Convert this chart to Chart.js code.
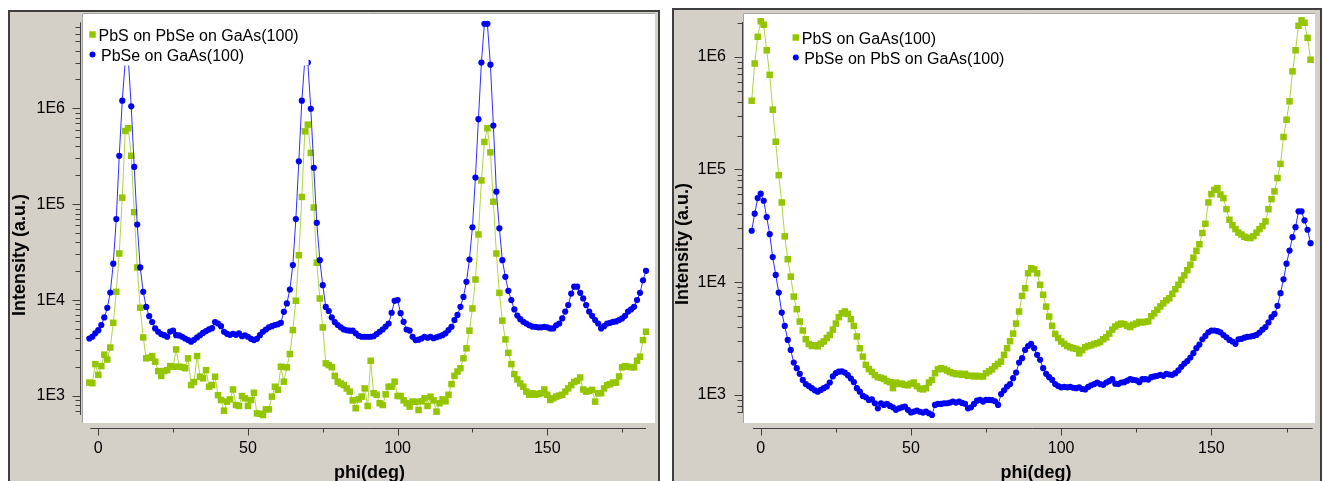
<!DOCTYPE html>
<html>
<head>
<meta charset="utf-8">
<script src="https://cdn.jsdelivr.net/npm/chart.js@4.4.0/dist/chart.umd.min.js"></script>
<style>
  html, body { margin: 0; padding: 0; background: #fff; overflow: hidden; }
  body { width: 1324px; height: 481px; position: relative; }
  .panel { position: absolute; box-sizing: border-box; background: #d4d0c8; border: 2px solid #3f3f3f; border-bottom: none; }
  #panelA { left: 8px; top: 10px; width: 652px; height: 471px; }
  #panelB { left: 672px; top: 8px; width: 650px; height: 473px; }
  canvas { position: absolute; }
  #chartA { left: 10px; top: 12px; }
  #chartB { left: 674px; top: 10px; }
</style>
</head>
<body>
<div class="panel" id="panelA"></div>
<div class="panel" id="panelB"></div>
<canvas id="chartA" width="648" height="469"></canvas>
<canvas id="chartB" width="646" height="471"></canvas>
<script>
document.addEventListener('DOMContentLoaded', function () {
    const FONT = "'Liberation Sans', Arial, sans-serif";

    // phi steps in degrees, shared by all four scans
    const phi = [
        -3, -2, -1, 0, 1, 2, 3, 4, 5, 6,
        7, 8, 9, 10, 11, 12, 13, 14, 15, 16,
        17, 18, 19, 20, 21, 22, 23, 24, 25, 26,
        27, 28, 29, 30, 31, 32, 33, 34, 35, 36,
        37, 38, 39, 40, 41, 42, 43, 44, 45, 46,
        47, 48, 49, 50, 51, 52, 53, 54, 55, 56,
        57, 58, 59, 60, 61, 62, 63, 64, 65, 66,
        67, 68, 69, 70, 71, 72, 73, 74, 75, 76,
        77, 78, 79, 80, 81, 82, 83, 84, 85, 86,
        87, 88, 89, 90, 91, 92, 93, 94, 95, 96,
        97, 98, 99, 100, 101, 102, 103, 104, 105, 106,
        107, 108, 109, 110, 111, 112, 113, 114, 115, 116,
        117, 118, 119, 120, 121, 122, 123, 124, 125, 126,
        127, 128, 129, 130, 131, 132, 133, 134, 135, 136,
        137, 138, 139, 140, 141, 142, 143, 144, 145, 146,
        147, 148, 149, 150, 151, 152, 153, 154, 155, 156,
        157, 158, 159, 160, 161, 162, 163, 164, 165, 166,
        167, 168, 169, 170, 171, 172, 173, 174, 175, 176,
        177, 178, 179, 180, 181, 182, 183
    ];

    // left panel: PbS on PbSe on GaAs(100)
    const pbsOnPbse = [
        1380, 1360, 2150, 1660, 2050, 2700, 2400, 3200, 5800, 12200,
        30600, 117000, 580000, 620000, 320000, 82600, 21900, 8320, 4080, 2470,
        2510, 2610, 2280, 1820, 1620, 1820, 1860, 2050, 2020, 3060,
        2020, 2000, 1950, 2470, 1300, 1400, 2610, 1590, 1530, 1860,
        1250, 1300, 1590, 1020, 908, 703, 873, 922, 1170, 805,
        787, 1000, 946, 787, 908, 1080, 659, 652, 634, 726,
        726, 985, 1250, 1160, 2020, 1410, 1990, 2740, 4870, 9840,
        29400, 119000, 575000, 676000, 343000, 92300, 24500, 10400, 5190, 2190,
        2100, 2000, 1620, 1410, 1350, 1300, 1200, 1110, 900, 745,
        922, 985, 1200, 787, 2330, 1070, 1030, 840, 805, 1040,
        1250, 1250, 1410, 1000, 1000, 900, 840, 775, 873, 870,
        714, 880, 946, 787, 985, 900, 687, 840, 922, 880,
        1030, 1330, 1620, 1800, 1950, 2470, 3140, 4800, 8180, 16400,
        48400, 177000, 446000, 620000, 347000, 106000, 30600, 11900, 6100, 3890,
        2820, 2150, 1690, 1490, 1350, 1250, 1110, 1030, 1070, 1030,
        1050, 1070, 1170, 1030, 908, 946, 985, 1010, 1030, 1110,
        1200, 1300, 1400, 1440, 1560, 1170, 1110, 1130, 1160, 873,
        1070, 1070, 1200, 1300, 1330, 1380, 1380, 1600, 1990, 2050,
        2020, 2000, 1990, 2330, 2570, 3830, 4680
    ];

    // left panel: PbSe on GaAs(100)
    const pbseOnGaas = [
        3980, 4150, 4500, 4860, 5500, 6600, 8300, 12000, 24000, 70000,
        320000, 1200000, 3100000, 3300000, 1050000, 245000, 61400, 21900, 12200, 8500,
        6800, 5900, 5070, 4680, 4420, 4310, 4150, 4700, 4800, 4310,
        4280, 4150, 3980, 3830, 3680, 3850, 4080, 4300, 4550, 4750,
        4950, 5100, 5900, 5700, 5350, 4680, 4450, 4350, 4450, 4350,
        4500, 4200, 4300, 4150, 3950, 3830, 3950, 4310, 4680, 4940,
        5200, 5350, 5500, 5600, 5800, 7550, 9230, 12900, 23200, 70000,
        280000, 1200000, 3200000, 3000000, 990000, 240000, 64000, 26100, 14300, 8500,
        7700, 6600, 5900, 5500, 5200, 4950, 4850, 4800, 4800, 4500,
        4250, 4150, 4150, 4150, 4150, 4200, 4420, 4680, 4940, 5300,
        5700, 7380, 9840, 10000, 7300, 5940, 4940, 4810, 4150, 3830,
        3870, 3980, 4150, 4050, 4150, 4000, 4100, 4200, 4310, 4500,
        4870, 5270, 6190, 7000, 8520, 10800, 15500, 26500, 57500, 190000,
        770000, 3000000, 7600000, 7600000, 2850000, 660000, 135000, 56000, 26100, 17500,
        12500, 10000, 8000, 6900, 6330, 5940, 5700, 5470, 5300, 5270,
        5200, 5200, 5250, 5200, 5070, 5070, 5470, 5700, 6440, 7600,
        8870, 11700, 13800, 13800, 11900, 10400, 8870, 7600, 6860, 6190,
        5700, 5070, 5350, 5700, 5800, 5940, 6000, 6190, 6440, 6860,
        7600, 8000, 8520, 10000, 11900, 16100, 20200
    ];

    // right panel: PbS on GaAs(100)
    const pbsOnGaas = [
        407000, 870000, 1500000, 2060000, 1920000, 1140000, 690000, 339000, 176000, 89000,
        51000, 25500, 16000, 11200, 7460, 5770, 4480, 3730, 3120, 2840,
        2720, 2760, 2700, 2850, 2980, 3200, 3400, 3800, 4300, 4900,
        5300, 5500, 5240, 4700, 4100, 3300, 2600, 2190, 1850, 1700,
        1600, 1500, 1440, 1420, 1390, 1330, 1300, 1150, 1290, 1250,
        1260, 1230, 1220, 1260, 1290, 1200, 1140, 1120, 1150, 1290,
        1360, 1560, 1690, 1730, 1700, 1650, 1600, 1560, 1530, 1550,
        1510, 1540, 1480, 1480, 1460, 1480, 1460, 1460, 1560, 1620,
        1690, 1800, 1890, 1980, 2270, 2600, 3000, 3500, 4300, 5500,
        7570, 8850, 12000, 13300, 13000, 12000, 9490, 7730, 6080, 4960,
        4100, 3480, 3200, 2980, 2840, 2720, 2650, 2600, 2570, 2340,
        2500, 2650, 2720, 2760, 2830, 2880, 2950, 3120, 3250, 3500,
        3800, 4050, 4200, 4300, 4250, 4100, 4000, 4200, 4300, 4450,
        4400, 4450, 4500, 5000, 5300, 5700, 6100, 6500, 6900, 7210,
        7890, 8670, 9490, 10500, 11500, 12800, 14300, 16500, 19000, 21700,
        27300, 33000, 51000, 60500, 66000, 68400, 60000, 55700, 44500, 35800,
        32000, 29600, 27500, 26500, 25300, 24800, 24600, 25600, 27500, 29600,
        31500, 34600, 44500, 54600, 63900, 83900, 112000, 194000, 276000, 402000,
        741000, 1140000, 1880000, 2100000, 2000000, 1470000, 940000
    ];

    // right panel: PbSe on PbS on GaAs(100)
    const pbseOnPbs = [
        28600, 40500, 55700, 61000, 52800, 37800, 26700, 16700, 11600, 8100,
        5380, 4100, 3080, 2510, 1940, 1730, 1540, 1360, 1250, 1200,
        1150, 1100, 1070, 1110, 1150, 1190, 1290, 1460, 1560, 1610,
        1620, 1580, 1500, 1400, 1300, 1150, 1070, 982, 955, 904,
        916, 845, 762, 845, 817, 834, 800, 778, 738, 762,
        778, 789, 738, 700, 713, 728, 710, 698, 713, 689,
        665, 817, 834, 834, 845, 845, 857, 875, 857, 875,
        850, 835, 762, 778, 834, 891, 904, 875, 904, 904,
        900, 880, 817, 1020, 1100, 1190, 1250, 1410, 1580, 1940,
        2120, 2510, 2720, 2840, 2600, 2270, 2050, 1730, 1540, 1440,
        1360, 1250, 1200, 1170, 1180, 1170, 1180, 1160, 1150, 1170,
        1130, 1120, 1180, 1220, 1250, 1290, 1250, 1230, 1290, 1330,
        1380, 1260, 1250, 1290, 1300, 1340, 1380, 1360, 1350, 1300,
        1380, 1380, 1370, 1440, 1460, 1480, 1510, 1480, 1540, 1520,
        1510, 1560, 1650, 1780, 1900, 2000, 2150, 2350, 2600, 2800,
        3120, 3340, 3600, 3730, 3730, 3680, 3600, 3400, 3250, 3080,
        2980, 2840, 3120, 3150, 3220, 3280, 3300, 3340, 3410, 3580,
        3800, 4000, 4400, 4900, 5240, 6170, 8000, 10600, 14600, 19100,
        25100, 30800, 42500, 42500, 35300, 29200, 22200
    ];

    const xTickValues = [0, 50, 100, 150];
    const xMinorValues = [25, 75, 125, 175];
    const yTickValues = [1e3, 1e4, 1e5, 1e6];
    const xTitle = 'phi(deg)';
    const yTitle = 'Intensity (a.u.)';

    // plot frame, offset axes, titles and the in-plot legend
    const panelDecor = {
        id: 'panelDecor',
        beforeDraw(chart) {
            const { ctx, chartArea: a } = chart;
            ctx.save();
            ctx.fillStyle = '#ffffff';
            ctx.fillRect(a.left, a.top, a.right - a.left, a.bottom - a.top);
            ctx.strokeStyle = '#a4a4a4';
            ctx.lineWidth = 1;
            ctx.beginPath();
            ctx.moveTo(a.left + 0.5, a.bottom);
            ctx.lineTo(a.left + 0.5, a.top + 0.5);
            ctx.lineTo(a.right, a.top + 0.5);
            ctx.stroke();
            ctx.restore();
        },
        afterDraw(chart, args, o) {
            const { ctx, chartArea: a, scales: { x, y } } = chart;
            ctx.save();
            ctx.strokeStyle = '#404040';
            ctx.lineWidth = 1;
            ctx.beginPath();

            const ax = Math.round(a.left - o.yAxisGap) + 0.5;
            ctx.moveTo(ax, y.getPixelForValue(o.yAxis[1]));
            ctx.lineTo(ax, y.getPixelForValue(o.yAxis[0]));
            for (let d = 2; d <= 7; d++) {
                for (let m = 1; m <= 9; m++) {
                    const v = m * Math.pow(10, d);
                    if (v < o.yAxis[0] || v > o.yAxis[1]) continue;
                    const py = Math.round(y.getPixelForValue(v)) + 0.5;
                    ctx.moveTo(ax - (m === 1 ? 8 : 5), py);
                    ctx.lineTo(ax, py);
                }
            }

            const ay = Math.round(a.bottom) + 5.5;
            ctx.moveTo(x.getPixelForValue(o.xAxis[0]), ay);
            ctx.lineTo(x.getPixelForValue(o.xAxis[1]), ay);
            xTickValues.forEach(v => {
                const px = Math.round(x.getPixelForValue(v)) + 0.5;
                ctx.moveTo(px, ay);
                ctx.lineTo(px, ay + 7);
            });
            xMinorValues.forEach(v => {
                const px = Math.round(x.getPixelForValue(v)) + 0.5;
                ctx.moveTo(px, ay);
                ctx.lineTo(px, ay + 4);
            });
            ctx.stroke();

            // axis titles
            ctx.fillStyle = '#000';
            ctx.font = 'bold 18px ' + FONT;
            ctx.textAlign = 'center';
            ctx.textBaseline = 'alphabetic';
            ctx.fillText(xTitle, (a.left + a.right) / 2 + o.xTitleShift, a.bottom + 54.5);
            ctx.save();
            ctx.translate(o.yTitleAt[0], o.yTitleAt[1]);
            ctx.rotate(-Math.PI / 2);
            ctx.textBaseline = 'middle';
            ctx.fillText(yTitle, 0, 0);
            ctx.restore();

            // legend inside the plot
            ctx.font = '16px ' + FONT;
            ctx.textAlign = 'left';
            ctx.textBaseline = 'alphabetic';
            const sets = chart.data.datasets;
            const lx = a.left + o.legendAt[0];
            const ly = a.top + o.legendAt[1];
            const w = Math.max(...sets.map(s => ctx.measureText(s.label).width));
            ctx.fillStyle = '#ffffff';
            ctx.fillRect(lx - 6, ly - 11, w + 22, 20 * sets.length + 2);
            sets.forEach((s, i) => {
                const my = ly + i * 20;
                ctx.fillStyle = s.backgroundColor;
                let gap = 6;
                if (s.pointStyle === 'rect') {
                    ctx.fillRect(lx - 3.25, my - 3.25, 6.5, 6.5);
                } else {
                    ctx.beginPath();
                    ctx.arc(lx, my, 3, 0, 2 * Math.PI);
                    ctx.fill();
                    gap = 8.5;
                }
                ctx.fillStyle = '#000';
                ctx.fillText(s.label, lx + gap, my + 6.2);
            });
            ctx.restore();
        }
    };

    function scan(label, values, green) {
        return {
            label: label,
            data: phi.map((p, i) => ({ x: p, y: values[i] })),
            borderColor: green ? '#b0d545' : '#2f2fff',
            backgroundColor: green ? '#94c600' : '#0000f2',
            pointBackgroundColor: green ? '#94c600' : '#0000f2',
            pointBorderWidth: 0,
            pointStyle: green ? 'rect' : 'circle',
            pointRadius: green ? 4.6 : 3.1,
            borderWidth: 1,
            tension: 0,
            order: green ? 1 : 0
        };
    }

    function makeChart(canvasId, datasets, view) {
        return new Chart(document.getElementById(canvasId), {
            type: 'line',
            data: { datasets: datasets },
            plugins: [panelDecor],
            options: {
                responsive: false,
                animation: false,
                events: [],
                layout: { autoPadding: false, padding: { left: 0, top: view.padTop, right: view.padRight, bottom: 0 } },
                plugins: {
                    legend: { display: false },
                    tooltip: { enabled: false },
                    panelDecor: view.decor
                },
                scales: {
                    x: {
                        type: 'linear',
                        min: view.xMin,
                        max: view.xMax,
                        afterFit: s => { s.height = 58; s.paddingLeft = 0; s.paddingRight = 0; },
                        afterBuildTicks: s => { s.ticks = xTickValues.map(v => ({ value: v })); },
                        grid: { display: false, drawTicks: false },
                        border: { display: false },
                        ticks: { color: '#000', padding: 16, maxRotation: 0, autoSkip: false, font: { family: FONT, size: 16 } }
                    },
                    y: {
                        type: 'logarithmic',
                        min: view.yMin,
                        max: view.yMax,
                        afterFit: s => { s.width = view.yWidth; s.paddingTop = 0; s.paddingBottom = 0; },
                        afterBuildTicks: s => { s.ticks = yTickValues.map(v => ({ value: v })); },
                        grid: { display: false, drawTicks: false },
                        border: { display: false },
                        ticks: {
                            color: '#000',
                            padding: 17,
                            font: { family: FONT, size: 16 },
                            callback: v => '1E' + Math.round(Math.log10(v))
                        }
                    }
                }
            }
        });
    }

    makeChart('chartA', [
        scan('PbS on PbSe on GaAs(100)', pbsOnPbse, true),
        scan('PbSe on GaAs(100)', pbseOnGaas, false)
    ], {
        padTop: 1, padRight: 3, yWidth: 72,
        xMin: -5.45, xMax: 186.0, yMin: 523, yMax: 9.86e6,
        decor: {
            xAxis: [-2.7, 183], yAxis: [634, 7.9e6], yAxisGap: 2.5,
            xTitleShift: 1, yTitleAt: [10, 243], legendAt: [10.5, 21.5]
        }
    });

    makeChart('chartB', [
        scan('PbS on GaAs(100)', pbsOnGaas, true),
        scan('PbSe on PbS on GaAs(100)', pbseOnPbs, false)
    ], {
        padTop: 3, padRight: 5, yWidth: 69,
        xMin: -5.89, xMax: 184.48, yMin: 564.5, yMax: 2.44e6,
        decor: {
            xAxis: [-2.6, 183.7], yAxis: [692, 2.03e6], yAxisGap: 1.5,
            xTitleShift: 7, yTitleAt: [9.3, 234], legendAt: [52.8, 24.5]
        }
    });
});
</script>
</body>
</html>
